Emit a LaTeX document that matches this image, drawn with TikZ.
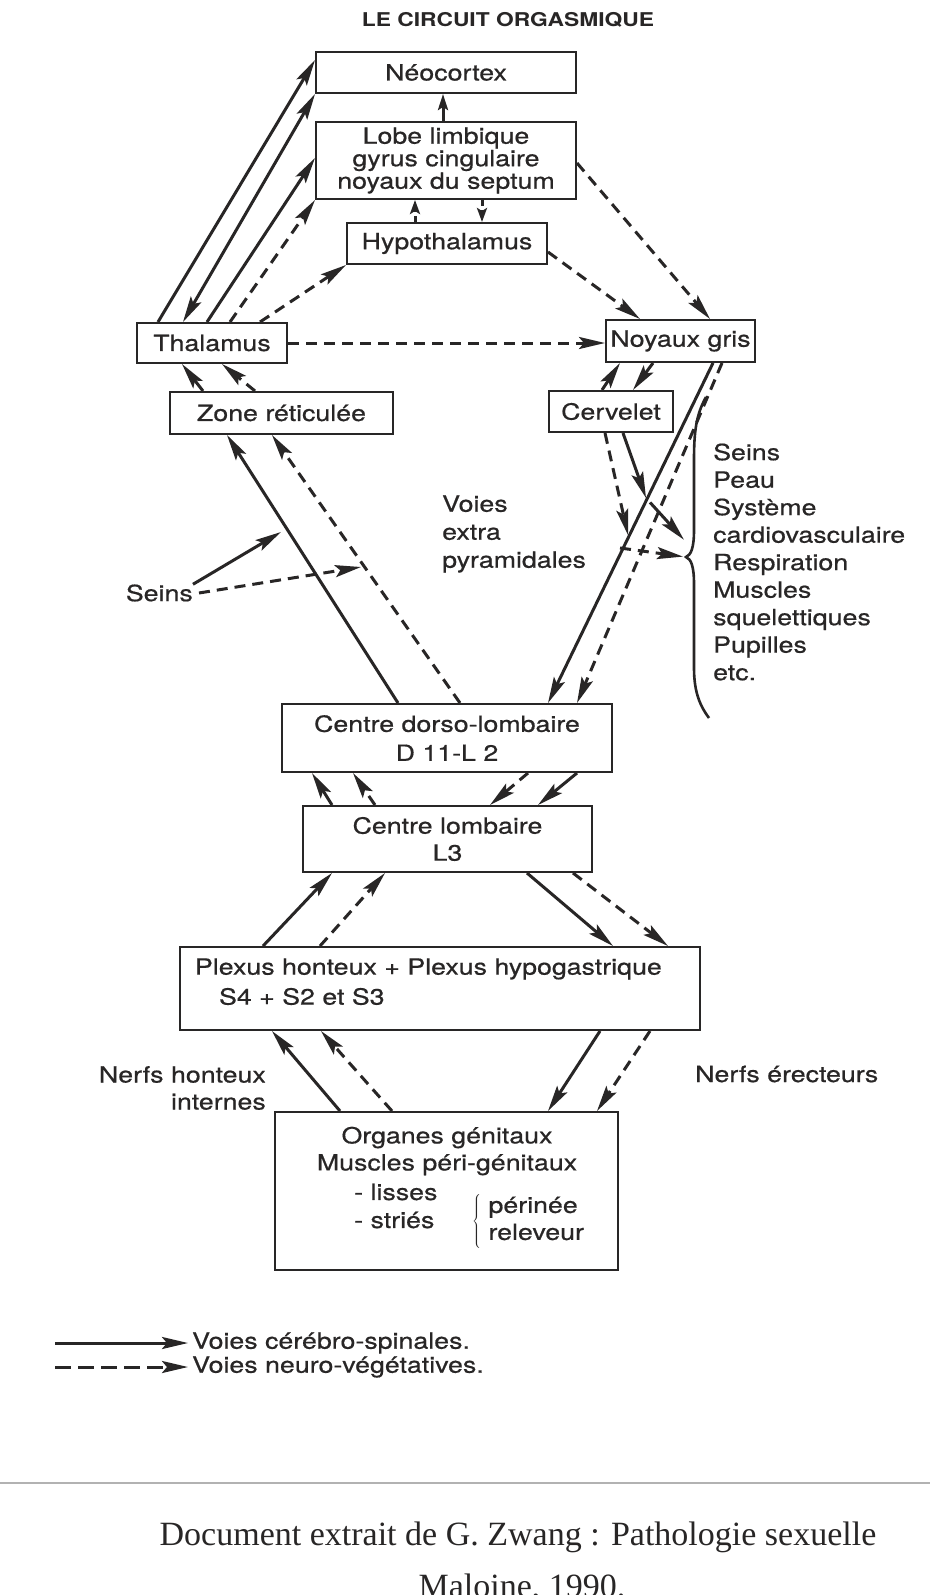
\documentclass[tikz,border=0pt]{standalone}
\usepackage{fontspec}
\setmainfont{TeX Gyre Heros}[FakeStretch=1.2, FakeBold=0.6]
\newfontfamily\titlefont{TeX Gyre Heros}[FakeStretch=1.2]
\newfontfamily\reffont{Liberation Serif}
\usetikzlibrary{arrows.meta, calc}
\definecolor{ink}{RGB}{40,38,38}
\tikzstyle{box} = [rectangle, draw=ink, line width=2pt, inner sep=0pt, align=center, text=ink]
\tikzstyle{note} = [inner sep=0pt, align=center, text=ink]
\tikzstyle{cs} = [line width=3pt, draw=ink, ->, >={Stealth[length=26pt, width=12pt, inset=5pt]}]
\tikzstyle{csb} = [cs, <->]
\tikzstyle{nv} = [cs, dash pattern=on 11pt off 7pt]
\tikzstyle{csm} = [cs, >={Stealth[length=16pt, width=10pt, inset=3pt]}]
\tikzstyle{nvm} = [nv, >={Stealth[length=14pt, width=10pt, inset=3pt]}, dash pattern=on 6pt off 4pt]

\begin{document}
\begin{tikzpicture}[x=1pt, y=-1pt, every node/.style={font=\fontsize{22.3}{27}\selectfont}]
        \useasboundingbox[fill=white] (0,0) rectangle (930,1595);
        \node[note, font=\titlefont\bfseries\fontsize{19}{21}\selectfont] (title) at (508,20) {LE CIRCUIT ORGASMIQUE};

        \node[box, minimum width=260pt, minimum height=41pt] (neo) at (446,72.5) {Néocortex};
        \node[box, minimum width=260pt, minimum height=77pt, font=\fontsize{22.3}{22.5}\selectfont] (lobe) at (446,160.5) {Lobe limbique\\gyrus cingulaire\\noyaux du septum};
        \node[box, minimum width=200pt, minimum height=41pt] (hypo) at (447,243.5) {Hypothalamus};
        \node[box, minimum width=150pt, minimum height=40pt] (thal) at (212,343) {Thalamus};
        \node[box, minimum width=223pt, minimum height=42pt] (zone) at (281.5,413) {Zone réticulée};
        \node[box, minimum width=149pt, minimum height=42pt] (noy) at (680.5,341) {Noyaux gris};
        \node[box, minimum width=124pt, minimum height=41pt] (cerv) at (611,411.5) {Cervelet};
        \node[box, minimum width=330pt, minimum height=68pt, font=\fontsize{22.3}{29}\selectfont] (dorso) at (447,738) {Centre dorso-lombaire\\D 11-L 2};
        \node[box, minimum width=289pt, minimum height=66pt] (lomb) at (447.5,839) {Centre lombaire\\L3};
        \node[box, minimum width=520pt, minimum height=83pt, text width=490pt, text depth=44pt, align=left, inner xsep=15pt, font=\fontsize{22.3}{30}\selectfont] (plex) at (440,988.5) {Plexus honteux + Plexus hypogastrique\\\hspace*{24pt}S4 + S2 et S3};
        \node[box, minimum width=343pt, minimum height=158pt] (org) at (446.5,1191) {};
        \node[note] (orgt) at (447,1151) {Organes génitaux\\Muscles péri-génitaux};
        \node[note, anchor=west] (lis) at (354,1192) {- lisses};
        \node[note, anchor=west] (stri) at (354,1220) {- striés};
        \node[note, anchor=west] (peri) at (472,1221) {$\left\{\begin{tabular}{@{\ }l@{}}périnée\\releveur\end{tabular}\right.$};

        \node[note, align=left, anchor=west, font=\fontsize{22.3}{28}\selectfont] (extra) at (442,534) {Voies\\extra\\pyramidales};
        \node[note, align=left, anchor=west, font=\fontsize{22.3}{27.5}\selectfont] (cibles) at (713,562) {Seins\\Peau\\Système\\cardiovasculaire\\Respiration\\Muscles\\squelettiques\\Pupilles\\etc.};
        \node[note, anchor=east] (seins) at (193,593) {Seins};
        \node[note, align=right, anchor=east] (nhi) at (266,1088) {Nerfs honteux\\internes};
        \node[note, anchor=west] (nerec) at (695,1074) {Nerfs érecteurs};

        \coordinate (seinsA) at (281,532);
        \coordinate (seinsB) at (361,567);
        \coordinate (crossS) at (646,498);
        \coordinate (crossD) at (628,535);
        \coordinate (crossD2) at (620,548);
        \coordinate (cusp) at (686,557);
        \coordinate (cuspS) at (686,542);

        \draw[cs] (158,0 |- thal.north) -- (neo.west |- 0,60);
        \draw[csb] (183,0 |- thal.north) -- (neo.south west);
        \draw[cs] (207,0 |- thal.north) -- (lobe.west |- 0,158);
        \draw[nv] (230,0 |- thal.north) -- (lobe.south west);
        \draw[nv] (260,0 |- thal.north) -- (hypo.south west);
        \draw[csm] (443,0 |- lobe.north) -- (443,0 |- neo.south);
        \draw[nvm] (415,0 |- hypo.north) -- (415,0 |- lobe.south);
        \draw[nvm] (482,0 |- lobe.south) -- (482,0 |- hypo.north);
        \draw[nv] (hypo.east |- 0,252) -- (640,0 |- noy.north);
        \draw[nv] (lobe.east |- 0,163) -- (710,0 |- noy.north);
        \draw[nv] (thal.east) -- (noy.west |- thal.east);

        \draw[cs] (203,0 |- zone.north) -- (182,0 |- thal.south);
        \draw[nv] (255,0 |- zone.north) -- (222,0 |- thal.south);
        \draw[cs] (398,0 |- dorso.north) -- (227,0 |- zone.south);
        \draw[nv] (460,0 |- dorso.north) -- (272,0 |- zone.south);
        \draw[cs] (seins.north east) -- (seinsA);
        \draw[nv] ([xshift=6pt]seins.east) -- (seinsB);

        \draw[cs] (602,0 |- cerv.north) -- (620,0 |- noy.south);
        \draw[cs] (653,0 |- noy.south) -- (633,0 |- cerv.north);
        \draw[cs] (623,0 |- cerv.south) -- (crossS);
        \draw[cs, shorten <=6pt, shorten >=3pt] (crossS) -- (cuspS);
        \draw[nv] (605,0 |- cerv.south) -- (crossD);
        \draw[nv, shorten >=3pt] (crossD2) -- (cusp);
        \draw[cs] (713,0 |- noy.south) -- (548,0 |- dorso.north);
        \draw[nv] (722,0 |- noy.south) -- (577,0 |- dorso.north);
        \draw[ink, line width=2.6pt] (706,397) .. controls (696,415) and (694,432) .. (694,460) -- (694,530) .. controls (694,548) and (691,555) .. (cusp) .. controls (691,559) and (694,566) .. (694,584) -- (694,668) .. controls (694,692) and (700,706) .. (709,718);

        \draw[cs] (332,0 |- lomb.north) -- (312,0 |- dorso.south);
        \draw[nv] (375,0 |- lomb.north) -- (353,0 |- dorso.south);
        \draw[nv] (528,0 |- dorso.south) -- (490,0 |- lomb.north);
        \draw[cs] (577,0 |- dorso.south) -- (538,0 |- lomb.north);

        \draw[cs] (263,0 |- plex.north) -- (332,0 |- lomb.south);
        \draw[nv] (320,0 |- plex.north) -- (385,0 |- lomb.south);
        \draw[cs] (527,0 |- lomb.south) -- (613,0 |- plex.north);
        \draw[nv] (573,0 |- lomb.south) -- (668,0 |- plex.north);

        \draw[cs] (340,0 |- org.north) -- (272,0 |- plex.south);
        \draw[nv] (392,0 |- org.north) -- (321,0 |- plex.south);
        \draw[cs] (600,0 |- plex.south) -- (548,0 |- org.north);
        \draw[nv] (650,0 |- plex.south) -- (597,0 |- org.north);

        \node[note, anchor=west] (legcs) at (192,1343) {Voies cérébro-spinales.};
        \node[note, anchor=west] (legnv) at (192,1367) {Voies neuro-végétatives.};
        \draw[cs, shorten >=4pt] (55,0 |- legcs.west) -- (legcs.west);
        \draw[nv, dash pattern=on 16pt off 7pt, shorten >=4pt] (55,0 |- legnv.west) -- (legnv.west);

        \draw[gray!60, line width=1.2pt] (0,1483) -- (930,1483);
        \node[note, font=\reffont\fontsize{34}{40}\selectfont] (src) at (518,1537) {Document extrait de G. Zwang : Pathologie sexuelle};
        \node[note, font=\reffont\fontsize{34}{40}\selectfont] (ed) at (522,1588) {Maloine, 1990.};
    \end{tikzpicture}
\end{document}
